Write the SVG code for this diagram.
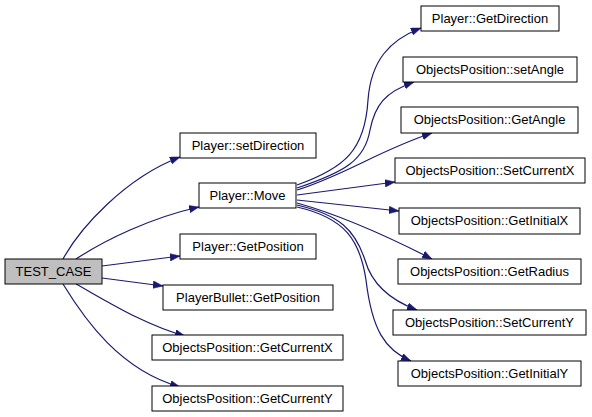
<svg xmlns="http://www.w3.org/2000/svg" width="592" height="417" viewBox="0 0 592 417">
<style>
.n rect{fill:#ffffff;stroke:#000000;stroke-width:1}
.n.root rect{fill:#bfbfbf}
.n text{font-family:"Liberation Sans",Arial,sans-serif;font-size:13px;fill:#000000;text-anchor:middle}
.e path{fill:none;stroke:#191970;stroke-width:1.2}
</style>
<defs>
<marker id="ah" markerUnits="userSpaceOnUse" markerWidth="11" markerHeight="8" refX="10" refY="3.75" orient="auto">
<path d="M0,0 L10,3.75 L0,7.5 z" fill="#191970" stroke="#191970" stroke-width="0.5"/>
</marker>
</defs>
<rect width="592" height="417" fill="#ffffff"/>
<g class="e">
<path marker-end="url(#ah)" d="M63,259 C80,228 125,178 180,157"/>
<path marker-end="url(#ah)" d="M76,259 C105,240 150,218 199,207"/>
<path marker-end="url(#ah)" d="M102,266 L180,256"/>
<path marker-end="url(#ah)" d="M102,278 L163,286"/>
<path marker-end="url(#ah)" d="M76,284 C110,303 145,325 185,336"/>
<path marker-end="url(#ah)" d="M63,284 C85,320 120,370 180,387"/>
<path marker-end="url(#ah)" d="M297,185 C345,168 365,150 368,100 C371,60 390,40 421,28"/>
<path marker-end="url(#ah)" d="M297,188 C345,172 365,160 370,130 C375,105 385,92 414,82"/>
<path marker-end="url(#ah)" d="M297,190 C345,175 380,150 432,133"/>
<path marker-end="url(#ah)" d="M297,195 L395,182"/>
<path marker-end="url(#ah)" d="M297,200 L399,211"/>
<path marker-end="url(#ah)" d="M297,203 C340,215 385,235 432,259"/>
<path marker-end="url(#ah)" d="M297,205 C340,215 355,230 365,260 C372,285 390,300 417,310"/>
<path marker-end="url(#ah)" d="M297,207 C345,218 360,240 366,280 C372,330 385,350 411,361"/>
</g>
<g id="test_case" class="n root"><rect x="5" y="259" width="97" height="25"/><text x="53.5" y="276">TEST_CASE</text></g>
<g id="player_setdirection" class="n"><rect x="180" y="133" width="136" height="25"/><text x="248" y="150">Player::setDirection</text></g>
<g id="player_move" class="n"><rect x="199" y="183" width="97" height="25"/><text x="247.5" y="200">Player::Move</text></g>
<g id="player_getposition" class="n"><rect x="180" y="234" width="136" height="25"/><text x="248" y="251">Player::GetPosition</text></g>
<g id="playerbullet_getposition" class="n"><rect x="163" y="285" width="170" height="25"/><text x="248" y="302">PlayerBullet::GetPosition</text></g>
<g id="op_getcurrentx" class="n"><rect x="152" y="335" width="191" height="25"/><text x="247.5" y="352">ObjectsPosition::GetCurrentX</text></g>
<g id="op_getcurrenty" class="n"><rect x="152" y="386" width="191" height="25"/><text x="247.5" y="403">ObjectsPosition::GetCurrentY</text></g>
<g id="player_getdirection" class="n"><rect x="421" y="6" width="138" height="25"/><text x="490" y="23">Player::GetDirection</text></g>
<g id="op_setangle" class="n"><rect x="403" y="57" width="174" height="25"/><text x="490" y="74">ObjectsPosition::setAngle</text></g>
<g id="op_getangle" class="n"><rect x="401" y="107" width="177" height="26"/><text x="489.5" y="124">ObjectsPosition::GetAngle</text></g>
<g id="op_setcurrentx" class="n"><rect x="395" y="158" width="190" height="25"/><text x="490" y="175">ObjectsPosition::SetCurrentX</text></g>
<g id="op_getinitialx" class="n"><rect x="399" y="208" width="181" height="26"/><text x="489.5" y="225">ObjectsPosition::GetInitialX</text></g>
<g id="op_getradius" class="n"><rect x="398" y="259" width="183" height="25"/><text x="489.5" y="276">ObjectsPosition::GetRadius</text></g>
<g id="op_setcurrenty" class="n"><rect x="393" y="310" width="193" height="25"/><text x="489.5" y="327">ObjectsPosition::SetCurrentY</text></g>
<g id="op_getinitialy" class="n"><rect x="398" y="361" width="183" height="25"/><text x="489.5" y="378">ObjectsPosition::GetInitialY</text></g>
</svg>
